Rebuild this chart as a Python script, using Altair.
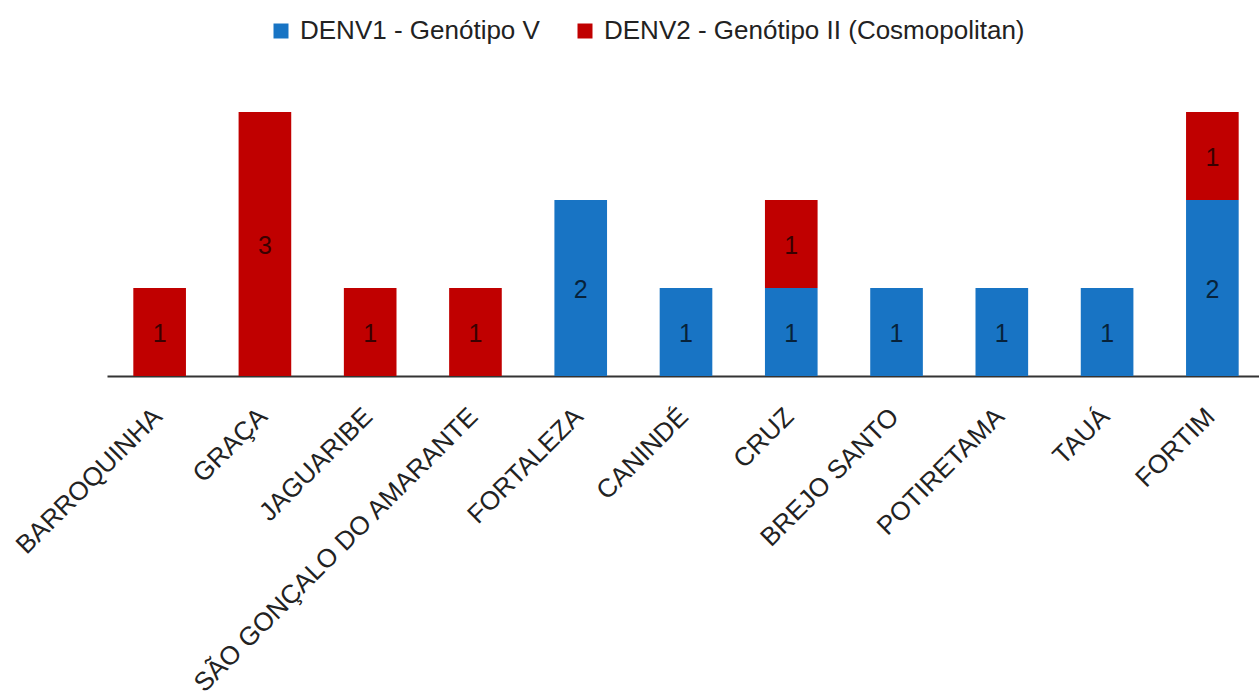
import altair as alt
import pandas as pd

categories = ["BARROQUINHA", "GRAÇA", "JAGUARIBE", "SÃO GONÇALO DO AMARANTE",
              "FORTALEZA", "CANINDÉ", "CRUZ", "BREJO SANTO", "POTIRETAMA", "TAUÁ", "FORTIM"]
denv1 = [0, 0, 0, 0, 2, 1, 1, 1, 1, 1, 2]
denv2 = [1, 3, 1, 1, 0, 0, 1, 0, 0, 0, 1]
series = ["DENV1 - Genótipo V", "DENV2 - Genótipo II (Cosmopolitan)"]
colors = ["#1874c4", "#c00000"]

rows = []
for c, a, b in zip(categories, denv1, denv2):
    if a:
        rows.append({"cat": c, "serie": series[0], "ord": 0, "v": a})
    if b:
        rows.append({"cat": c, "serie": series[1], "ord": 1, "v": b})
df = pd.DataFrame(rows)

FONT = "Liberation Sans"

base = alt.Chart(df).transform_stack(
    stack="v", groupby=["cat"], as_=["y0", "y1"],
    sort=[alt.SortField("ord", order="ascending")]
).transform_calculate(mid="(datum.y0 + datum.y1) / 2")

xenc = alt.X("cat:N", sort=categories, title=None,
             scale=alt.Scale(range=[0, 1158], paddingInner=0.5, paddingOuter=0.25),
             axis=alt.Axis(labelAngle=-45, labelFontSize=26, labelFont=FONT,
                           labelColor="#222222", ticks=False, labelPadding=27,
                           labelOffset=-11, domainColor="#333333", domainWidth=2,
                           grid=False, labelLimit=500))
yscale = alt.Scale(domain=[0, 3])

bars = base.mark_bar().encode(
    x=xenc,
    y=alt.Y("y0:Q", scale=yscale, axis=None),
    y2="y1:Q",
    color=alt.Color("serie:N", scale=alt.Scale(domain=series, range=colors),
                    legend=alt.Legend(title=None, orient="none", direction="horizontal",
                                      legendX=161, legendY=-94,
                                      symbolType="square", symbolSize=225,
                                      symbolStrokeWidth=0, labelFontSize=26,
                                      labelFont=FONT, labelColor="#222222",
                                      labelOffset=6, columnPadding=32,
                                      labelLimit=600)),
)

labels = base.mark_text(fontSize=25, font=FONT, color="#000000", opacity=0.7,
                        baseline="middle", align="center", dy=2).encode(
    x=alt.X("cat:N", sort=categories),
    y=alt.Y("mid:Q", scale=yscale),
    text=alt.Text("v:Q"),
)

chart = alt.layer(bars, labels).properties(
    width=1152, height=264,
    padding={"left": 107, "top": 112, "right": 0, "bottom": 318},
    autosize=alt.AutoSizeParams(type="none"),
    background="white",
).configure_view(stroke=None)

chart.save("out.html", embed_options={"renderer": "svg", "actions": False})
